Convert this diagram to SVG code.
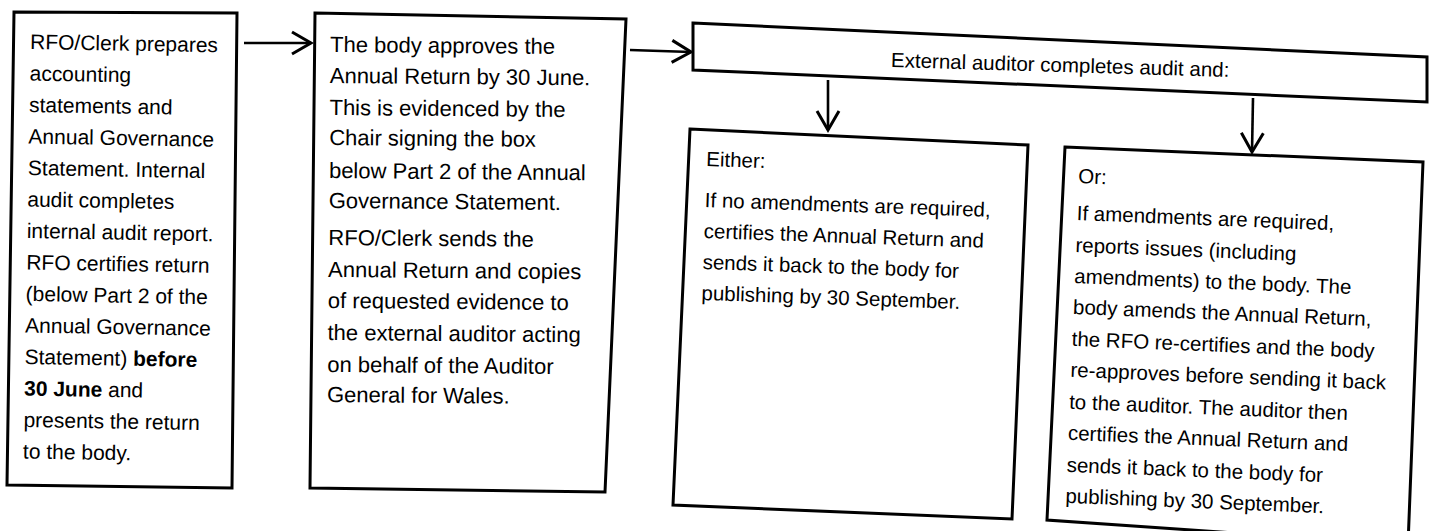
<svg xmlns="http://www.w3.org/2000/svg" width="1434" height="531" viewBox="0 0 1434 531">
<style>
.box{fill:#fff;stroke:#000;stroke-width:3;stroke-linejoin:miter}
.t{font-family:"Liberation Sans",Arial,sans-serif;fill:#000}
.conn{stroke:#000;stroke-width:2.6;fill:none}
</style>
<defs>
<marker id="ah" markerUnits="userSpaceOnUse" viewBox="-24 -14 27 28" refX="0" refY="0" markerWidth="27" markerHeight="28" orient="auto">
<path d="M-19,-11 L0,0 L-19,11" fill="none" stroke="#000" stroke-width="3"/>
</marker>
</defs>
<rect width="1434" height="531" fill="#fff"/>

<g id="n1">
<polygon class="box" points="14,12 237,13 232,488 7,485"/>
<g class="t" font-size="21" transform="rotate(1 30 49)">
<text x="30" y="49">RFO/Clerk prepares</text>
<text x="30" y="80.5">accounting</text>
<text x="30" y="112">statements and</text>
<text x="30" y="143.5">Annual Governance</text>
<text x="30" y="175">Statement. Internal</text>
<text x="30" y="206.5">audit completes</text>
<text x="30" y="238">internal audit report.</text>
<text x="30" y="269.5">RFO certifies return</text>
<text x="30" y="301">(below Part 2 of the</text>
<text x="30" y="332.5">Annual Governance</text>
<text x="30" y="364">Statement) <tspan font-weight="bold">before</tspan></text>
<text x="30" y="395.5"><tspan font-weight="bold">30 June</tspan> and</text>
<text x="30" y="427">presents the return</text>
<text x="30" y="458.5">to the body.</text>
</g>
</g>

<g id="n2">
<polygon class="box" points="315,13 626,19 605,492 310,488"/>
<g class="t" font-size="22" transform="rotate(0.5 330 52)">
<text x="330" y="52">The body approves the</text>
<text x="330" y="83">Annual Return by 30 June.</text>
<text x="330" y="115">This is evidenced by the</text>
<text x="330" y="145">Chair signing the box</text>
<text x="330" y="178">below Part 2 of the Annual</text>
<text x="330" y="208">Governance Statement.</text>
<text x="330" y="245">RFO/Clerk sends the</text>
<text x="330" y="277">Annual Return and copies</text>
<text x="330" y="308">of requested evidence to</text>
<text x="330" y="340">the external auditor acting</text>
<text x="330" y="372">on behalf of the Auditor</text>
<text x="330" y="402">General for Wales.</text>
</g>
</g>

<g id="n3">
<polygon class="box" points="693,23 1427,57 1427,102 693,70"/>
<text class="t" font-size="20.5" x="1060" y="72" text-anchor="middle" transform="rotate(1.7 1060 72)">External auditor completes audit and:</text>
</g>

<g id="n4">
<polygon class="box" points="690,129 1028,145 1012,519 673,505"/>
<g class="t" font-size="20.5" transform="rotate(2 706 166)">
<text x="706" y="166">Either:</text>
<text x="706" y="207">If no amendments are required,</text>
<text x="706" y="238">certifies the Annual Return and</text>
<text x="706" y="269">sends it back to the body for</text>
<text x="706" y="300">publishing by 30 September.</text>
</g>
</g>

<g id="n5">
<polygon class="box" points="1065,147 1423,162 1408,545 1047,520"/>
<g class="t" font-size="20.5" transform="rotate(2.3 1078 183)">
<text x="1078" y="183">Or:</text>
<text x="1078" y="220">If amendments are required,</text>
<text x="1078" y="252">reports issues (including</text>
<text x="1078" y="283">amendments) to the body. The</text>
<text x="1078" y="314">body amends the Annual Return,</text>
<text x="1078" y="346">the RFO re-certifies and the body</text>
<text x="1078" y="377">re-approves before sending it back</text>
<text x="1078" y="409">to the auditor. The auditor then</text>
<text x="1078" y="440">certifies the Annual Return and</text>
<text x="1078" y="472">sends it back to the body for</text>
<text x="1078" y="503">publishing by 30 September.</text>
</g>
</g>

<g id="connectors">
<line class="conn" x1="244" y1="43" x2="311" y2="43" marker-end="url(#ah)"/>
<line class="conn" x1="630" y1="50" x2="691" y2="52" marker-end="url(#ah)"/>
<line class="conn" x1="828" y1="80" x2="828" y2="130" marker-end="url(#ah)"/>
<line class="conn" x1="1253" y1="98" x2="1252" y2="152" marker-end="url(#ah)"/>
</g>
</svg>
